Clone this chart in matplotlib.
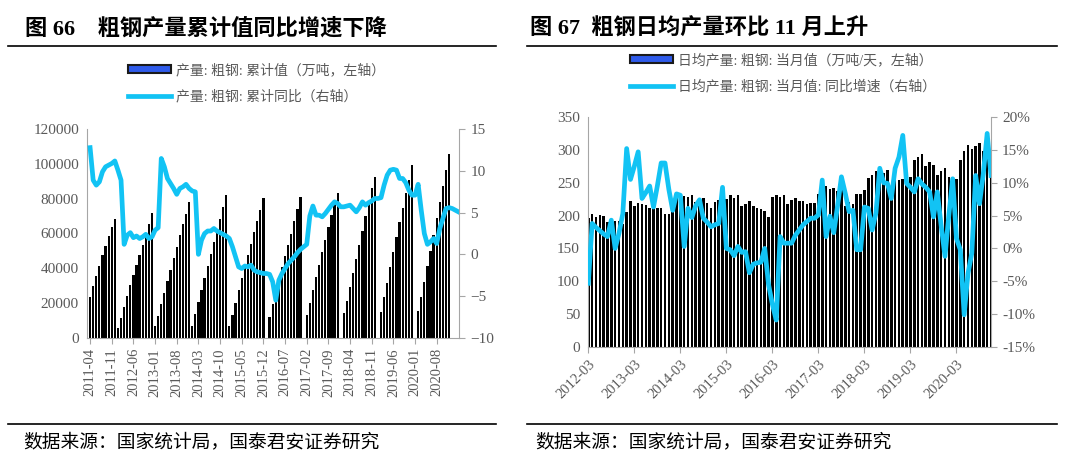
import numpy as np
import pandas as pd
import matplotlib
matplotlib.use('Agg')
import matplotlib.pyplot as plt
from matplotlib.patches import Patch
from matplotlib.lines import Line2D

plt.rcParams['font.family'] = ['Liberation Serif', 'Noto Sans CJK SC']

nan = np.nan

# ---- left chart: cumulative crude steel output (10k t) and cumulative yoy (%)
left_months = list(pd.period_range('2011-04', '2021-03', freq='M').strftime('%Y-%m'))

cum_2011 = [23400, 29600, 35400, 41400, 47500, 53000, 58600, 64000, 68300]
cum_2012 = [5600, 11300, 17600, 23900, 30200, 36100, 42000, 47800, 53500, 59200, 65300, 71700]
cum_2013 = [6500, 12500, 19500, 26000, 32700, 39200, 45900, 52400, 59000, 65500, 71500, 78000]
cum_2014 = [7000, 13400, 20500, 27500, 34500, 41300, 48200, 55000, 61500, 68500, 75000, 82300]
cum_2015 = [7000, 13200, 20000, 27200, 34200, 41000, 47600, 54200, 60800, 67300, 73700, 80400]
cum_2016 = [nan, 12000, 19300, 26600, 33800, 40600, 46900, 53500, 60000, 67000, 74000, 80800]
cum_2017 = [nan, 13000, 20200, 27600, 35000, 42000, 49300, 56300, 63500, 70900, 77500, 83200]
cum_2018 = [nan, 14000, 21400, 29000, 37100, 45200, 53400, 61500, 69800, 78100, 86000, 92800]
cum_2019 = [nan, 15000, 23200, 31600, 40500, 49200, 57800, 66600, 74900, 83300, 91000, 99600]
cum_2020 = [nan, 15500, 23400, 32300, 41200, 50000, 59300, 69000, 78200, 87400, 96500, 105500]
cum_2021 = [nan, nan, nan]
cum_output = (cum_2011 + cum_2012 + cum_2013 + cum_2014 + cum_2015 + cum_2016
              + cum_2017 + cum_2018 + cum_2019 + cum_2020 + cum_2021)

yoy_2011 = [12.8, 8.9, 8.3, 8.7, 9.9, 10.5, 10.7, 10.9, 11.2]
yoy_2012 = [10.1, 8.9, 1.2, 2.3, 2.6, 2.0, 2.2, 1.9, 2.1, 2.4, 1.9, 2.1]
yoy_2013 = [2.9, 3.2, 11.5, 10.5, 9.1, 8.5, 7.9, 7.2, 7.9, 8.1, 8.4, 7.9]
yoy_2014 = [7.6, 7.5, 0.0, 1.7, 2.5, 2.8, 2.8, 3.1, 2.8, 2.6, 2.4, 2.2]
yoy_2015 = [1.9, 0.9, -0.3, -1.5, -1.7, -1.4, -1.5, -1.3, -1.9, -2.1, -2.2, -2.3]
yoy_2016 = [-2.3, -2.4, -3.3, -5.5, -3.1, -2.3, -1.7, -1.1, -0.7, -0.3, 0.2, 0.6]
yoy_2017 = [0.9, 1.2, 4.6, 5.8, 4.7, 4.7, 4.5, 4.9, 5.4, 5.9, 6.3, 6.1]
yoy_2018 = [5.7, 5.7, 5.8, 5.9, 5.5, 5.1, 5.6, 6.3, 5.9, 6.2, 6.4, 6.7]
yoy_2019 = [6.7, 6.8, 8.3, 9.5, 10.1, 10.2, 10.1, 9.1, 9.1, 8.6, 7.7, 7.1]
yoy_2020 = [7.1, 8.4, 5.3, 2.5, 1.2, 1.5, 1.9, 1.3, 3.1, 4.3, 5.5, 5.6]
yoy_2021 = [5.5, 5.3, 5.1]
cum_yoy = (yoy_2011 + yoy_2012 + yoy_2013 + yoy_2014 + yoy_2015 + yoy_2016
           + yoy_2017 + yoy_2018 + yoy_2019 + yoy_2020 + yoy_2021)

# ---- right chart: daily crude steel output (10k t/day) and yoy (%)
right_months = list(pd.period_range('2012-03', '2020-12', freq='M').strftime('%Y-%m'))

daily_2012 = [197, 202, 198, 201, 199, 190, 192, 191, 192, 187]
daily_2013 = [206, 222, 215, 219, 217, 216, 212, 215, 211, 212, 203, 202]
daily_2014 = [208, 228, 233, 230, 228, 232, 221, 224, 226, 219, 212, 220]
daily_2015 = [224, 229, 225, 231, 227, 231, 214, 217, 222, 215, 212, 210]
daily_2016 = [207, 198, 229, 232, 228, 232, 217, 223, 227, 222, 222, 218]
daily_2017 = [219, 219, 233, 234, 245, 240, 242, 238, 240, 214, 221, 217]
daily_2018 = [233, 233, 239, 257, 262, 268, 270, 265, 269, 245, 254, 254]
daily_2019 = [255, 254, 259, 285, 289, 293, 276, 282, 277, 262, 268, 272]
daily_2020 = [258, 259, 255, 285, 299, 307, 302, 306, 310, 299, 292, 296]
daily_output = (daily_2012 + daily_2013 + daily_2014 + daily_2015 + daily_2016
                + daily_2017 + daily_2018 + daily_2019 + daily_2020)

dyoy_2012 = [-5.3, 3.8, 3.2, 2.7, 2.2, 1.8, 4.3, 0.0, 2.3, 5.3]
dyoy_2013 = [15.2, 10.5, 12.5, 14.7, 7.6, 8.5, 9.5, 6.3, 9.5, 13.0, 13.0, 9.0]
dyoy_2014 = [5.8, 8.3, 8.1, 0.3, 6.1, 4.7, 6.5, 7.4, 4.6, 4.0, 3.3, 3.6]
dyoy_2015 = [3.8, 9.3, 0.0, -0.2, -1.1, 0.3, -0.6, -0.5, -3.7, -2.4, -2.2, -2.1]
dyoy_2016 = [0.0, -5.5, -8.5, -10.9, 1.8, 0.8, 0.8, 0.8, 2.0, 2.8, 3.6, 4.1]
dyoy_2017 = [4.6, 4.6, 5.1, 10.4, 1.8, 4.9, 2.4, 6.5, 10.9, 8.4, 5.6, 5.8]
dyoy_2018 = [-0.2, -0.2, 6.3, 6.1, 2.8, 5.4, 12.2, 10.0, 9.9, 7.6, 12.2, 13.9]
dyoy_2019 = [17.2, 9.9, 9.3, 8.6, 10.6, 9.8, 9.3, 8.6, 4.8, 8.6, 3.5, -1.2]
dyoy_2020 = [5.0, 10.6, 1.5, -0.2, -10.1, -3.8, -0.7, 11.1, 6.8, 11.4, 17.5, 11.1]
daily_yoy = (dyoy_2012 + dyoy_2013 + dyoy_2014 + dyoy_2015 + dyoy_2016
             + dyoy_2017 + dyoy_2018 + dyoy_2019 + dyoy_2020)

left_title = '图 66    粗钢产量累计值同比增速下降'
right_title = '图 67  粗钢日均产量环比 11 月上升'
left_labels = ['产量: 粗钢: 累计值（万吨，左轴）', '产量: 粗钢: 累计同比（右轴）']
right_labels = ['日均产量: 粗钢: 当月值（万吨/天，左轴）', '日均产量: 粗钢: 当月值: 同比增速（右轴）']
source = '数据来源：国家统计局，国泰君安证券研究'

CYAN = '#12C3F4'
GRAY = '#595959'
SPINE = '#A6A6A6'
W, H = 1080, 466

fig = plt.figure(figsize=(W / 100, H / 100), dpi=100)


def style_axes(ax, ax2):
    for a in (ax, ax2):
        a.spines['top'].set_visible(False)
        for s in ('left', 'right', 'bottom'):
            a.spines[s].set_color(SPINE)
    ax.spines['right'].set_visible(False)
    ax2.spines['left'].set_visible(False)
    ax2.spines['bottom'].set_visible(False)
    ax.tick_params(axis='y', length=0, pad=6, labelsize=11, labelcolor=GRAY)
    ax2.tick_params(axis='y', length=4, color=SPINE, pad=4, labelsize=11, labelcolor=GRAY)
    ax.tick_params(axis='x', length=4, color=SPINE, labelsize=10.5, labelcolor=GRAY)


# left chart
axL = fig.add_axes([87.3 / W, 1 - 337.7 / H, 372 / W, 208.4 / H])
xl = np.arange(len(left_months))
axL.bar(xl, cum_output, width=0.72, color='black')
axL.set_ylim(0, 120000)
axL.set_yticks(range(0, 120001, 20000))
axL.set_xlim(-0.9, 119.3)
axL.set_xticks(xl[::7][:17])
axL.set_xticklabels([left_months[i] for i in xl[::7][:17]], rotation=90)
axL2 = axL.twinx()
axL2.plot(xl, cum_yoy, color=CYAN, lw=3.4, solid_joinstyle='round')
axL2.set_ylim(-10, 15)
axL2.set_yticks(range(-10, 16, 5))
style_axes(axL, axL2)

# right chart
axR = fig.add_axes([588.3 / W, 1 - 347 / H, 402.7 / W, 230 / H])
xr = np.arange(len(right_months))
axR.bar(xr, daily_output, width=0.68, color='black')
axR.set_ylim(0, 350)
axR.set_yticks(range(0, 351, 50))
axR.set_xlim(0, len(right_months) - 1)
axR.set_xticks(xr[::12])
axR.set_xticklabels([right_months[i] for i in xr[::12]], rotation=45,
                    ha='right', rotation_mode='anchor')
axR2 = axR.twinx()
axR2.plot(xr, daily_yoy, color=CYAN, lw=3.4, solid_joinstyle='round')
axR2.set_ylim(-15, 20)
axR2.set_yticks(range(-15, 21, 5))
axR2.set_yticklabels([f'{v}%' for v in range(-15, 21, 5)])
style_axes(axR, axR2)

# legends
leg_prop = {'family': ['Liberation Serif', 'Noto Sans CJK SC'], 'size': 10}
for x0, y0, labels in ((128, 63, left_labels), (630, 53, right_labels)):
    handles = [Patch(facecolor='#2F5BEA', edgecolor='#1a1a1a', linewidth=1.5),
               Line2D([], [], color=CYAN, lw=3.4)]
    fig.legend(handles, labels, loc='upper left',
               bbox_to_anchor=(x0 / W, 1 - y0 / H), frameon=False, prop=leg_prop,
               handlelength=3.1, handleheight=0.5, handletextpad=0.35,
               labelspacing=0.9, borderpad=0, borderaxespad=0, labelcolor=GRAY)

# titles, rules and footers
fig.text(25 / W, 1 - 29 / H, left_title, fontsize=16, fontweight='bold', va='center')
fig.text(530 / W, 1 - 29 / H, right_title, fontsize=16, fontweight='bold', va='center')
for xa, xb in ((8, 496), (527, 1057)):
    fig.add_artist(Line2D([xa / W, xb / W], [1 - 46 / H] * 2, color='black', lw=1.2))
    fig.add_artist(Line2D([xa / W, xb / W], [1 - 424 / H] * 2, color='black', lw=1.2))
fig.text(23 / W, 1 - 442 / H, source, fontsize=13.5, va='center')
fig.text(535 / W, 1 - 442 / H, source, fontsize=13.5, va='center')

fig.savefig('out.png', dpi=100)
